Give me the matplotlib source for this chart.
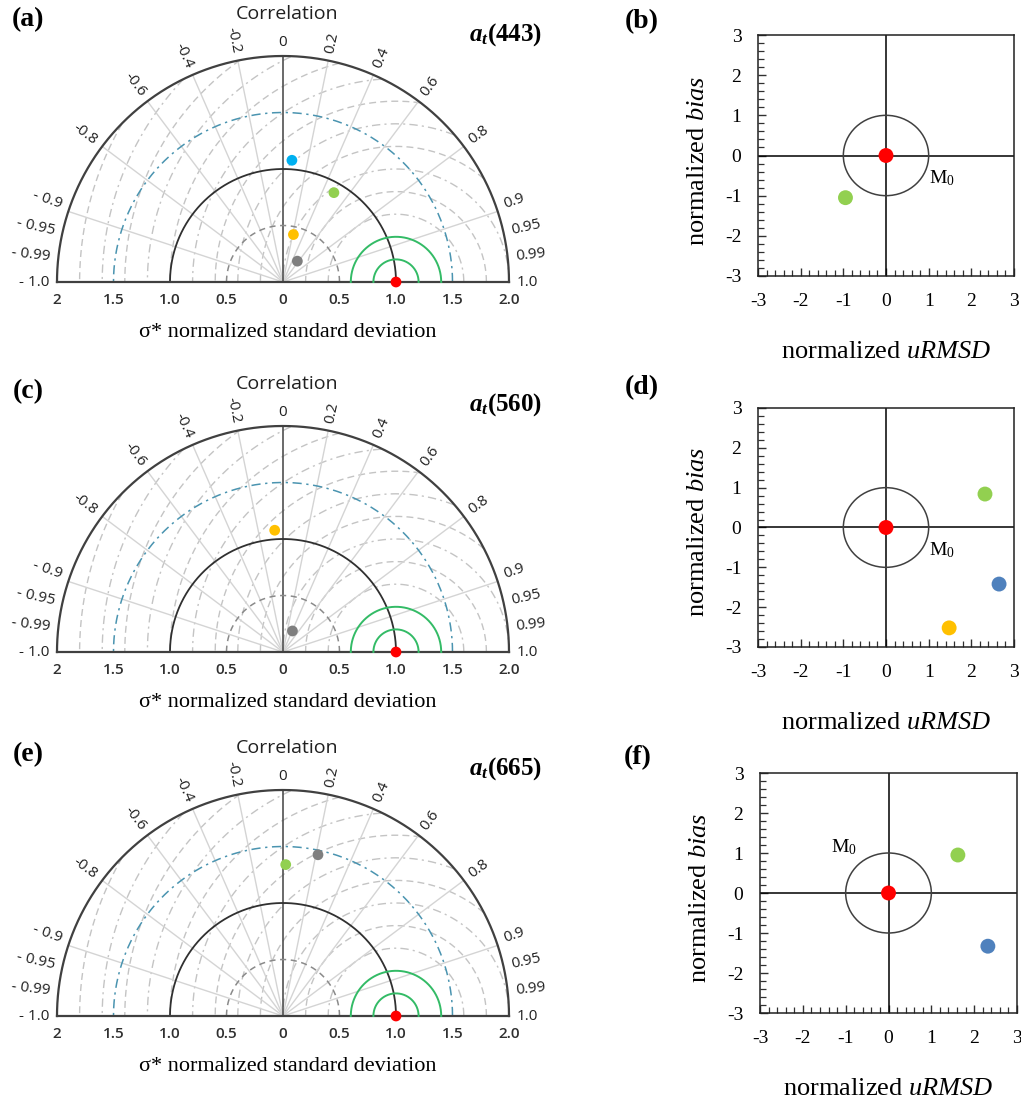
import numpy as np
import matplotlib
matplotlib.use('Agg')
import matplotlib.pyplot as plt
from matplotlib.patches import Circle
from matplotlib.ticker import MultipleLocator

plt.rcParams['font.family'] = 'Liberation Serif'
plt.rcParams['axes.unicode_minus'] = False
plt.rcParams['mathtext.fontset'] = 'custom'
plt.rcParams['mathtext.rm'] = 'Liberation Serif'
plt.rcParams['mathtext.it'] = 'Liberation Serif:italic'
plt.rcParams['mathtext.bf'] = 'Liberation Serif:bold'
plt.rcParams['mathtext.bfit'] = 'Liberation Serif:italic:bold'

# ---- data ----
bands = ['443', '560', '665']

# Taylor: normalized std and correlation of each model (last = reference)
std_443 = [1.08, 0.91, 0.43, 0.224, 1.0]
cor_443 = [0.073, 0.495, 0.214, 0.567, 1.0]
col_443 = ['#00b0f0', '#92d050', '#ffc000', '#7f7f7f', '#ff0000']

std_560 = [1.08, 0.204, 1.0]
cor_560 = [-0.068, 0.41, 1.0]
col_560 = ['#ffc000', '#7f7f7f', '#ff0000']

std_665 = [1.34, 1.46, 1.0]
cor_665 = [0.018, 0.212, 1.0]
col_665 = ['#92d050', '#7f7f7f', '#ff0000']

# Target: normalized uRMSD and bias (last = reference)
urmsd_443 = [-0.95, 0.0]
bias_443 = [-1.05, 0.0]
tcol_443 = ['#92d050', '#ff0000']

urmsd_560 = [2.32, 2.65, 1.48, 0.0]
bias_560 = [0.84, -1.42, -2.52, 0.0]
tcol_560 = ['#92d050', '#4f81bd', '#ffc000', '#ff0000']

urmsd_665 = [1.62, 2.32, 0.0]
bias_665 = [0.95, -1.33, 0.0]
tcol_665 = ['#92d050', '#4f81bd', '#ff0000']

corr_ticks = [0.2, 0.4, 0.6, 0.8, 0.9, 0.95, 0.99, 1.0]
corr_text = ['0.2', '0.4', '0.6', '0.8', '0.9', '0.95', '0.99', '1.0']
neg_text = ['-0.2', '-0.4', '-0.6', '-0.8', '- 0.9', '- 0.95', '- 0.99', '- 1.0']
spoke_cor = [0.2, 0.4, 0.6, 0.8, 0.95]
std_ticks = [-2, -1.5, -1.0, -0.5, 0, 0.5, 1.0, 1.5, 2.0]
std_tick_text = ['2', '1.5', '1.0', '0.5', '0', '0.5', '1.0', '1.5', '2.0']

# ---- layout (pixels) ----
W, H = 1021, 1108
U = 113.0          # pixels per std unit in the Taylor panels
OX = 283
origins_y = [282, 652, 1016]
target_boxes = [(758, 35, 1014, 276), (758, 408, 1014, 647), (760, 773, 1017, 1013)]
m0_pos = [(1.31, -0.56), (1.31, -0.56), (-1.05, 1.15)]
# the near-horizontal correlation labels are squeezed together in the original
label_deg = {0.9: 19.3, 0.95: 12.6, 0.99: 6.3, 1.0: 0.0}

fig = plt.figure(figsize=(W / 100, H / 100), dpi=100)


def box(left, top, right, bottom):
    return [left / W, 1 - bottom / H, (right - left) / W, (bottom - top) / H]


SANS = 'Open Sans'


def draw_taylor(ax, std, cor, colors, band):
    ax.set_xlim(-OX / U, (570 - OX) / U)
    ax.set_ylim(-70 / U, 290 / U)
    ax.axis('off')
    t = np.linspace(0, np.pi, 500)

    # RMSD arcs around the reference point, clipped to the outer circle
    for i, R in enumerate(np.arange(0.6, 2.81, 0.2)):
        x = 1 + R * np.cos(t)
        y = R * np.sin(t)
        out = x ** 2 + y ** 2 > 4.0
        x = np.where(out, np.nan, x)
        ls = (0, (6, 3, 1.5, 3)) if i % 2 == 0 else (0, (5, 3))
        ax.plot(x, y, color='#c4c4c4', lw=1.0, ls=ls, zorder=1)

    # correlation spokes
    for c in spoke_cor:
        for s in (1, -1):
            a = np.arccos(s * c)
            ax.plot([0, 2 * np.cos(a)], [0, 2 * np.sin(a)], color='#d4d4d4', lw=1.0, zorder=1)
    ax.plot([0, 0], [0, 2], color='#505050', lw=1.2, zorder=2)

    # std arcs
    ax.plot(0.5 * np.cos(t), 0.5 * np.sin(t), color='#8a8a8a', lw=1.1, ls=(0, (4, 3)), zorder=2)
    ax.plot(1.5 * np.cos(t), 1.5 * np.sin(t), color='#4a94b0', lw=1.1, ls=(0, (6, 3, 1.5, 3)), zorder=2)
    ax.plot(np.cos(t), np.sin(t), color='#303030', lw=1.3, zorder=3)
    ax.plot(2 * np.cos(t), 2 * np.sin(t), color='#404040', lw=1.6, zorder=3)
    ax.plot([-2, 2], [0, 0], color='#404040', lw=1.6, zorder=3)

    for R in (0.2, 0.4):
        ax.plot(1 + R * np.cos(t), R * np.sin(t), color='#33bb66', lw=1.4, zorder=3)

    # points
    std = np.array(std)
    cor = np.array(cor)
    px = std * cor
    py = std * np.sqrt(1 - cor ** 2)
    ax.scatter(px, py, s=60, c=colors, edgecolors='none', zorder=6, clip_on=False)

    # correlation labels
    r_lab = 2.07
    for c, txt, ntxt in zip(corr_ticks, corr_text, neg_text):
        d = label_deg.get(c, np.degrees(np.arccos(c)))
        a = np.radians(d)
        ax.text(r_lab * np.cos(a), r_lab * np.sin(a), txt, rotation=d, rotation_mode='anchor',
                ha='left', va='center', fontsize=11, family=SANS, color='#202020')
        a2 = np.pi - a
        ax.text(r_lab * np.cos(a2), r_lab * np.sin(a2), ntxt, rotation=-d, rotation_mode='anchor',
                ha='right', va='center', fontsize=11, family=SANS, color='#202020')
    ax.text(0, 2.12, '0', ha='center', va='center', fontsize=11, family=SANS, color='#202020')

    # std tick labels along the base
    for xv, txt in zip(std_ticks, std_tick_text):
        ax.text(xv, -0.155, txt, ha='center', va='center', fontsize=11, family=SANS,
                fontweight='semibold', color='#303030')

    ax.text(0.04, 2.37, 'Correlation', ha='center', va='center', fontsize=14, family=SANS, color='#202020')
    ax.text(0.04, -0.45, r'σ* normalized standard deviation', ha='center', va='center', fontsize=16)
    ax.text(1.97, 2.19, r'$\mathbfit{a}_{\mathbfit{t}}\mathbf{(' + band + ')}$', ha='center',
            va='center', fontsize=18)


def draw_target(ax, ux, by, colors, m0):
    ax.set_xlim(-3, 3)
    ax.set_ylim(-3, 3)
    ax.axhline(0, color='black', lw=1.1, zorder=2)
    ax.axvline(0, color='black', lw=1.1, zorder=2)
    ax.add_patch(Circle((0, 0), 1, fill=False, ec='#404040', lw=1.1, zorder=2))
    ax.scatter(ux, by, s=115, c=colors, edgecolors='none', zorder=5)
    ax.text(m0[0], m0[1], r'$\mathrm{M}_0$', ha='center', va='center', fontsize=14)

    ax.xaxis.set_major_locator(MultipleLocator(1))
    ax.yaxis.set_major_locator(MultipleLocator(1))
    ax.xaxis.set_minor_locator(MultipleLocator(0.2))
    ax.yaxis.set_minor_locator(MultipleLocator(0.2))
    ax.tick_params(which='both', direction='in', top=False, right=False, labelsize=14, pad=12,
                   color='#303030')
    ax.tick_params(which='major', length=6, width=1)
    ax.tick_params(which='minor', length=4, width=0.9)
    for sp in ax.spines.values():
        sp.set_linewidth(1.1)
        sp.set_color('#202020')

    ax.set_xlabel(r'normalized $\mathit{uRMSD}$', fontsize=19)
    ax.xaxis.set_label_coords(0.5, -0.27)
    ax.set_ylabel(r'normalized $\mathit{bias}$', fontsize=19)
    ax.yaxis.set_label_coords(-0.19, 0.48)


taylor_sets = [(std_443, cor_443, col_443), (std_560, cor_560, col_560), (std_665, cor_665, col_665)]
target_sets = [(urmsd_443, bias_443, tcol_443), (urmsd_560, bias_560, tcol_560),
               (urmsd_665, bias_665, tcol_665)]

for i, band in enumerate(bands):
    oy = origins_y[i]
    ax = fig.add_axes(box(0, oy - 290, 570, oy + 70))
    s, c, col = taylor_sets[i]
    draw_taylor(ax, s, c, col, band)

    ax2 = fig.add_axes(box(*target_boxes[i]))
    u, b, tc = target_sets[i]
    draw_target(ax2, u, b, tc, m0_pos[i])

panel_pos = [('(a)', 28, 20), ('(b)', 642, 22), ('(c)', 28, 392),
             ('(d)', 642, 388), ('(e)', 28, 755), ('(f)', 638, 758)]
for lab, x, y in panel_pos:
    fig.text(x / W, 1 - y / H, lab, ha='center', va='center', fontsize=20, fontweight='bold')

fig.savefig('out.png', dpi=100)
